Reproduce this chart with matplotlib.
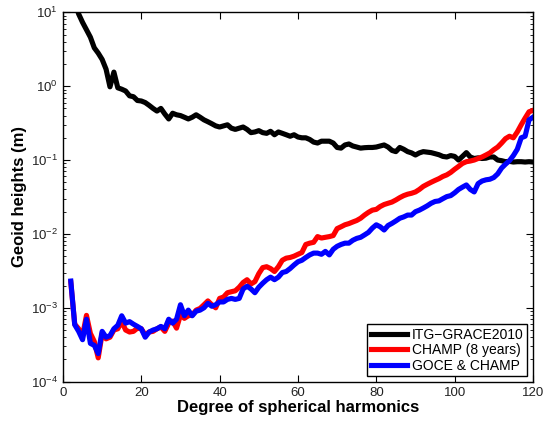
import numpy as np
import matplotlib
matplotlib.use("Agg")
import matplotlib.pyplot as plt

plt.rcParams['font.family'] = ['Liberation Sans', 'DejaVu Sans']
plt.rcParams['mathtext.default'] = 'regular'

# degrees 2..120
degree = list(range(2, 121))

itg_grace = [25, 14, 9.5, 7.3, 5.8, 4.6, 3.3, 2.8, 2.3, 1.7, 0.98, 1.55, 0.95, 0.91, 0.86,
             0.74, 0.72, 0.64, 0.63, 0.6, 0.55, 0.5, 0.46, 0.5, 0.42, 0.36, 0.43, 0.41, 0.4,
             0.38, 0.36, 0.38, 0.41, 0.38, 0.35, 0.33, 0.31, 0.29, 0.28, 0.29, 0.3, 0.27,
             0.26, 0.27, 0.28, 0.26, 0.235, 0.24, 0.25, 0.235, 0.23, 0.245, 0.22, 0.24, 0.23,
             0.22, 0.21, 0.22, 0.205, 0.2, 0.2, 0.19, 0.175, 0.17, 0.18, 0.18, 0.18, 0.17,
             0.148, 0.145, 0.16, 0.165, 0.155, 0.15, 0.145, 0.147, 0.148, 0.148, 0.15, 0.155,
             0.16, 0.15, 0.135, 0.13, 0.148, 0.14, 0.13, 0.125, 0.117, 0.125, 0.13, 0.128,
             0.126, 0.122, 0.118, 0.112, 0.11, 0.115, 0.112, 0.1, 0.112, 0.126, 0.11, 0.105,
             0.107, 0.105, 0.106, 0.11, 0.11, 0.1, 0.098, 0.095, 0.096, 0.094, 0.095, 0.095,
             0.094, 0.095, 0.094]

champ = [0.0022, 0.0006, 0.00052, 0.00042, 0.00079, 0.00045, 0.00035, 0.00021, 0.00045,
         0.00038, 0.0004, 0.0005, 0.00052, 0.00065, 0.0005, 0.00047, 0.00048, 0.00053,
         0.00052, 0.00043, 0.00047, 0.00048, 0.00052, 0.00055, 0.00048, 0.00062, 0.00066,
         0.00053, 0.0008, 0.00072, 0.00078, 0.0008, 0.00093, 0.00098, 0.0011, 0.00124,
         0.0011, 0.001, 0.00134, 0.0014, 0.0016, 0.00165, 0.0017, 0.0019, 0.0022, 0.0024,
         0.0021, 0.00226, 0.0029, 0.0035, 0.0036, 0.0034, 0.0031, 0.0036, 0.0044, 0.0047,
         0.0048, 0.005, 0.0053, 0.0056, 0.0072, 0.0075, 0.0077, 0.0092, 0.0088, 0.009,
         0.0092, 0.0095, 0.0118, 0.0125, 0.0133, 0.0138, 0.0145, 0.0152, 0.0163, 0.018,
         0.0196, 0.021, 0.0215, 0.0235, 0.025, 0.026, 0.027, 0.0288, 0.031, 0.033, 0.0345,
         0.0355, 0.037, 0.04, 0.044, 0.047, 0.05, 0.053, 0.056, 0.06, 0.063, 0.068, 0.075,
         0.082, 0.09, 0.095, 0.097, 0.1, 0.105, 0.11, 0.117, 0.125, 0.138, 0.15, 0.17,
         0.195, 0.21, 0.2, 0.24, 0.3, 0.37, 0.45, 0.47]

goce_champ = [0.0023, 0.00059, 0.00048, 0.00037, 0.0007, 0.00033, 0.00031, 0.00024, 0.00048,
              0.0004, 0.00042, 0.00052, 0.00058, 0.00078, 0.00062, 0.00065, 0.0006, 0.00056,
              0.00052, 0.0004, 0.00047, 0.0005, 0.00052, 0.00056, 0.00052, 0.0007, 0.00062,
              0.0007, 0.0011, 0.00078, 0.00093, 0.00078, 0.0009, 0.00093, 0.001, 0.00115,
              0.00105, 0.0011, 0.0012, 0.0012, 0.0013, 0.00134, 0.0013, 0.00134, 0.0018,
              0.00196, 0.0018, 0.0016, 0.0019, 0.00215, 0.0024, 0.0026, 0.0024, 0.0026, 0.003,
              0.0031, 0.0034, 0.0038, 0.0042, 0.0044, 0.0048, 0.0052, 0.0055, 0.0055, 0.0053,
              0.0058, 0.0052, 0.0062, 0.0068, 0.0072, 0.0075, 0.0075, 0.0082, 0.0087, 0.009,
              0.0097, 0.0105, 0.012, 0.0133, 0.0125, 0.0113, 0.013, 0.0139, 0.015, 0.0163,
              0.017, 0.018, 0.018, 0.02, 0.021, 0.0224, 0.024, 0.026, 0.0275, 0.028, 0.03,
              0.032, 0.033, 0.036, 0.04, 0.043, 0.046, 0.04, 0.037, 0.048, 0.052, 0.054, 0.055,
              0.058, 0.065, 0.078, 0.088, 0.098, 0.115, 0.14, 0.2, 0.21, 0.35, 0.38]

fig = plt.figure(figsize=(5.5, 4.21), dpi=100)
ax = fig.add_axes([0.1145, 0.0934, 0.8545, 0.8774])

lw = 3.7
ax.semilogy(degree, itg_grace, color='black', lw=lw, label='ITG\u2212GRACE2010')
ax.semilogy(degree, champ, color='#ff0000', lw=lw, label='CHAMP (8 years)')
ax.semilogy(degree, goce_champ, color='#0000ff', lw=lw, label='GOCE & CHAMP')

ax.set_xlim(0, 120)
ax.set_ylim(1e-4, 1e1)
ax.set_xticks([0, 20, 40, 60, 80, 100, 120])
ax.tick_params(which='both', direction='in', top=True, right=True, labelsize=9.5,
               labelcolor='#222222')
ax.tick_params(which='major', length=5)
ax.tick_params(which='minor', length=2.5)
for s in ax.spines.values():
    s.set_linewidth(1.0)

ax.set_xlabel('Degree of spherical harmonics', fontsize=12, fontweight='bold', labelpad=1)
ax.set_ylabel('Geoid heights (m)', fontsize=12, fontweight='bold', labelpad=3)

leg = ax.legend(loc='lower right', fontsize=10, fancybox=False, framealpha=1,
                edgecolor='black', handlelength=2.6, borderpad=0.25, labelspacing=0.1,
                handletextpad=0.4, borderaxespad=0.4)
leg.get_frame().set_linewidth(1.0)

fig.savefig('out.png', dpi=100)
